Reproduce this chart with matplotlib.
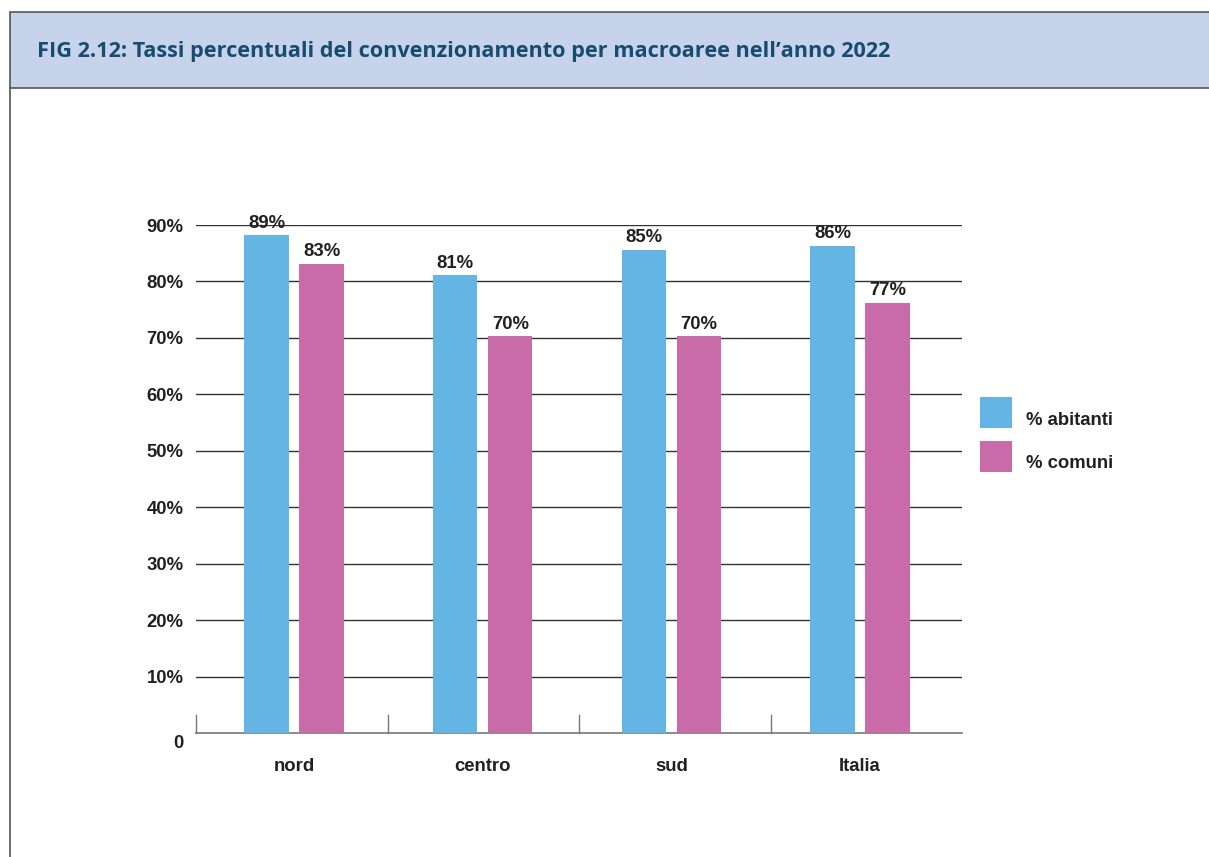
import numpy as np
import matplotlib.pyplot as plt
import matplotlib.transforms as mtransforms
from matplotlib.patches import Rectangle
from matplotlib.lines import Line2D

categories = ["nord", "centro", "sud", "Italia"]
abitanti = [88.2, 81.1, 85.6, 86.3]
comuni = [83.1, 70.3, 70.3, 76.2]
abitanti_labels = ["89%", "81%", "85%", "86%"]
comuni_labels = ["83%", "70%", "70%", "77%"]
series_names = ["% abitanti", "% comuni"]
yticks = [0, 10, 20, 30, 40, 50, 60, 70, 80, 90]
ytick_labels = ["0", "10%", "20%", "30%", "40%", "50%", "60%", "70%", "80%", "90%"]
title = "FIG 2.12: Tassi percentuali del convenzionamento per macroaree nell\u2019anno 2022"

BLUE = "#65b5e4"
PINK = "#c86ba8"
TEXT = "#231f20"
FONT = "Liberation Sans"
FS = 13.3

W, H = 1209, 857
fig = plt.figure(figsize=(W / 100, H / 100), dpi=100)

# header band and frame
fig.add_artist(Rectangle((10 / W, 1 - 88 / H), 1.2, 76 / H, transform=fig.transFigure,
                         facecolor="#c6d3ea", edgecolor="#555555", linewidth=1.2))
fig.add_artist(Line2D([10 / W, 10 / W], [0, 1 - 88 / H], transform=fig.transFigure,
                      color="#555555", linewidth=1.2))
fig.text(37 / W, 1 - 51 / H, title, fontsize=15.55, fontweight="bold", family="Open Sans",
         color="#174b70", va="center", ha="left")

ax = fig.add_axes([196 / W, 1 - 733 / H, (962 - 196) / W, (733 - 225) / H])
x = np.arange(len(categories))
bw = 0.235
off = 0.146
b1 = ax.bar(x - off, abitanti, bw, color=BLUE, zorder=3)
b2 = ax.bar(x + off, comuni, bw, color=PINK, zorder=3)

for bars, labels in ((b1, abitanti_labels), (b2, comuni_labels)):
    for rect, lab in zip(bars, labels):
        ax.annotate(lab, (rect.get_x() + rect.get_width() / 2, rect.get_height()),
                    xytext=(0, 2.5), textcoords="offset points", ha="center", va="bottom",
                    fontsize=FS, fontweight="bold", family=FONT, color=TEXT,
                    annotation_clip=False)

# group centres in the source sit slightly closer together than the separators
ax.set_xlim(-0.52, 3.54)
ax.set_ylim(0, 90)
ax.set_yticks(yticks)
ax.set_yticklabels(ytick_labels)
for v in yticks[1:]:
    ax.axhline(v, color="#333333", linewidth=1.0, zorder=1)

ax.set_xticks(x)
ax.set_xticklabels(categories)
ax.tick_params(axis="x", length=0, pad=18)
ax.tick_params(axis="y", length=0, pad=9)
for lab in ax.get_xticklabels() + ax.get_yticklabels():
    lab.set_fontsize(FS)
    lab.set_fontweight("bold")
    lab.set_family(FONT)
    lab.set_color(TEXT)
zero_lab = ax.get_yticklabels()[0]
zero_lab.set_transform(zero_lab.get_transform() +
                       mtransforms.ScaledTranslation(0, -9 / 100, fig.dpi_scale_trans))

# group separators rising from the baseline
sep = mtransforms.blended_transform_factory(ax.transAxes, ax.transData)
for b in [0.0, 0.25, 0.5, 0.75]:
    ax.plot([b, b], [0, 3.2], color="#777777", linewidth=1.0, zorder=2,
            clip_on=False, transform=sep)

for s in ["top", "right", "left"]:
    ax.spines[s].set_visible(False)
ax.spines["bottom"].set_color("#777777")
ax.spines["bottom"].set_linewidth(1.2)

# legend
for i, (name, col) in enumerate(zip(series_names, [BLUE, PINK])):
    top = 397 + i * 44
    fig.add_artist(Rectangle((980 / W, 1 - (top + 31) / H), 32 / W, 31 / H,
                             transform=fig.transFigure, facecolor=col, edgecolor="none"))
    fig.text(1026 / W, 1 - (top + 23) / H, name, fontsize=FS, fontweight="bold",
             family=FONT, color=TEXT, va="center", ha="left")

fig.savefig("out.png", dpi=100, facecolor="white")
